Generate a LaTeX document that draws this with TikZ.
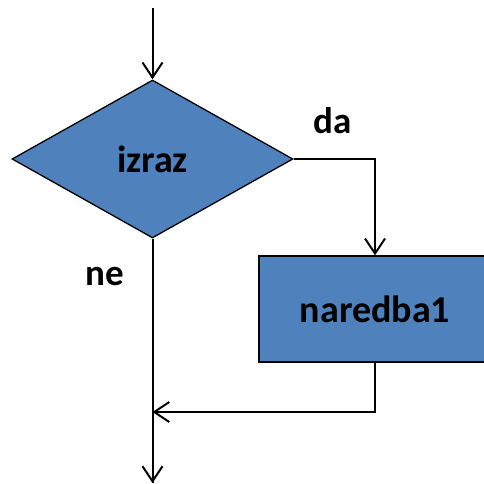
\documentclass[tikz,border=0pt]{standalone}
\usepackage{fontspec}
\setmainfont{Carlito}
\usetikzlibrary{shapes.geometric,arrows.meta}
\definecolor{boxblue}{HTML}{4F81BD}
\tikzset{
  flow/.style={draw=black, line width=2pt, -{Straight Barb[length=15pt,width=20pt,line width=2pt]}},
  plain/.style={draw=black, line width=2pt},
  shapebox/.style={fill=boxblue, draw=black, line width=1.3pt, inner sep=0pt,
    font=\fontsize{38}{42}\selectfont\bfseries},
  lbl/.style={inner sep=0pt, font=\fontsize{37}{40}\selectfont\bfseries, anchor=base west}
}
\begin{document}
\begin{tikzpicture}[x=1pt,y=-1pt]
  \useasboundingbox (0,0) rectangle (484,484);
  \clip (0,0) rectangle (484,484);
  % condition and statement blocks
  \node[shapebox, diamond, minimum width=281pt, minimum height=158pt] (cond) at (152.5,159) {izraz};
  \node[shapebox, rectangle, minimum width=232pt, minimum height=106pt] (stmt) at (375,309) {naredba1};
  % branch labels
  \node[lbl] (da) at (313,133) {da};
  \node[lbl] (ne) at (85,285) {ne};
  % helper points
  \coordinate (in) at (152.5,8);
  \coordinate (out) at (152.5,483);
  \coordinate (rdown) at (375,412);
  \coordinate (rturn) at (cond.east -| rdown);
  \coordinate (join) at (152.5,412);
  % connectors
  \draw[flow] (in) -- (cond.north);
  \draw[flow] (cond.east) -- (rturn) -- (stmt.north);
  \draw[plain] (cond.south) -- (out);
  \draw[flow] (stmt.south) -- (rdown) -- (join);
  \draw[flow] (join) -- (out);
\end{tikzpicture}
\end{document}
